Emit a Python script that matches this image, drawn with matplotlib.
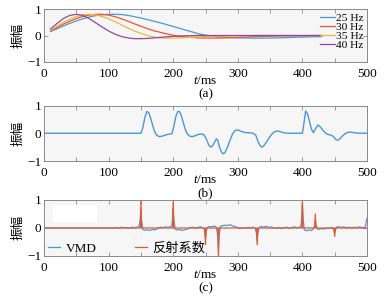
#!/usr/bin/env python3
"""
子波、合成记录与反射系数对比图
"""

import numpy as np
import matplotlib
matplotlib.use("Agg")
import matplotlib.pyplot as plt
from matplotlib.patches import Rectangle
from matplotlib.ticker import MultipleLocator

plt.rcParams['font.family'] = ['Liberation Serif', 'Noto Sans CJK SC']
plt.rcParams['mathtext.fontset'] = 'custom'
plt.rcParams['mathtext.it'] = 'Liberation Serif:italic'
plt.rcParams['mathtext.rm'] = 'Liberation Serif'
plt.rcParams['axes.unicode_minus'] = True

# (a) 不同主频子波
wave_t = [10, 20, 30, 40, 50, 60, 70, 80, 90, 100, 110, 120, 130, 140, 150,
          160, 170, 180, 190, 200, 210, 220, 240, 260, 280, 300, 330, 360,
          400, 430]
wave_25 = [0.15, 0.25, 0.36, 0.46, 0.55, 0.63, 0.70, 0.75, 0.78, 0.80, 0.80,
           0.79, 0.76, 0.71, 0.66, 0.60, 0.54, 0.48, 0.41, 0.34, 0.27, 0.20,
           0.06, -0.03, -0.07, -0.09, -0.10, -0.09, -0.06, -0.04]
wave_30 = [0.18, 0.30, 0.43, 0.54, 0.64, 0.72, 0.77, 0.80, 0.80, 0.77, 0.71,
           0.63, 0.54, 0.44, 0.35, 0.26, 0.18, 0.12, 0.06, 0.01, -0.03, -0.06,
           -0.09, -0.10, -0.09, -0.07, -0.04, -0.02, -0.01, 0.0]
wave_35 = [0.20, 0.35, 0.50, 0.62, 0.72, 0.78, 0.80, 0.78, 0.72, 0.63, 0.52,
           0.40, 0.28, 0.17, 0.08, 0.0, -0.06, -0.09, -0.10, -0.10, -0.09,
           -0.08, -0.05, -0.03, -0.02, -0.01, 0.0, 0.0, 0.0, 0.0]
wave_40 = [0.25, 0.45, 0.64, 0.76, 0.80, 0.76, 0.64, 0.48, 0.32, 0.17, 0.05,
           -0.04, -0.09, -0.12, -0.12, -0.11, -0.09, -0.07, -0.05, -0.03,
           -0.02, -0.01, 0.0, 0.0, 0.0, 0.0, 0.0, 0.0, 0.0, 0.0]
wave_labels = ['25 Hz', '30 Hz', '35 Hz', '40 Hz']

# (b) 合成记录 (t, 振幅)
trace_pts = [
    (0, 0), (150, 0), (153, 0.2), (156, 0.55), (159, 0.78), (162, 0.75),
    (165, 0.55), (168, 0.3), (171, 0.08), (174, -0.06), (178, -0.12),
    (182, -0.11), (186, -0.08), (190, -0.05), (194, -0.03), (198, -0.02),
    (201, 0.25), (204, 0.6), (207, 0.78), (210, 0.78), (213, 0.6),
    (216, 0.35), (219, 0.12), (222, -0.03), (226, -0.11), (230, -0.12),
    (234, -0.09), (238, -0.05), (242, -0.03), (246, -0.03), (249, -0.1),
    (252, -0.25), (255, -0.42), (258, -0.5), (261, -0.45), (264, -0.32),
    (267, -0.2), (269, -0.25), (271, -0.45), (274, -0.65), (277, -0.74),
    (280, -0.7), (284, -0.5), (288, -0.25), (292, -0.02), (296, 0.1),
    (300, 0.12), (304, 0.08), (310, 0.03), (316, 0.02), (320, 0.01),
    (324, 0.0), (328, -0.08), (331, -0.28), (334, -0.43), (337, -0.5),
    (340, -0.46), (344, -0.33), (348, -0.18), (352, -0.05), (356, 0.04),
    (360, 0.08), (364, 0.07), (368, 0.04), (372, 0.01), (380, 0.0),
    (400, 0.0), (402, 0.3), (405, 0.8), (408, 0.7), (411, 0.42),
    (414, 0.15), (417, 0.02), (420, 0.15), (424, 0.3), (428, 0.22),
    (432, 0.1), (436, 0.0), (440, -0.05), (444, -0.06), (448, -0.12),
    (452, -0.23), (455, -0.25), (458, -0.2), (462, -0.1), (466, -0.02),
    (470, 0.03), (474, 0.04), (480, 0.02), (488, 0.0), (500, 0.0),
]

# (c) 反射系数与 VMD 结果
ref_t = [150, 200, 250, 270, 330, 400, 420, 450]
ref_v = [1.0, 1.0, -0.6, -1.0, -0.6, 1.0, 0.5, -0.3]
vmd_pts = [
    (0, 0), (108, 0), (112, 0.02), (116, -0.01), (120, 0.03), (124, 0.0),
    (128, 0.02), (132, -0.01), (136, 0.03), (140, 0.01), (144, 0.03),
    (147, 0.05), (149, 0.3), (150, 0.68), (151, 0.3), (153, -0.05),
    (156, -0.08), (160, -0.06), (164, -0.09), (168, -0.05), (172, -0.07),
    (176, -0.02), (180, 0.03), (184, 0.01), (188, 0.04), (192, 0.02),
    (196, 0.05), (198, 0.1), (199, 0.35), (200, 0.7), (201, 0.3),
    (203, -0.04), (206, -0.07), (210, -0.05), (214, -0.09), (218, -0.06),
    (222, -0.04), (226, 0.01), (230, 0.03), (234, -0.01), (238, 0.02),
    (242, 0.04), (246, 0.01), (248, -0.05), (249, -0.2), (250, -0.35),
    (251, -0.15), (253, 0.02), (256, 0.05), (260, 0.04), (264, 0.07),
    (267, 0.02), (269, -0.3), (270, -0.8), (271, -0.3), (273, 0.06),
    (276, 0.08), (280, 0.1), (284, 0.09), (288, 0.12), (292, 0.07),
    (296, 0.05), (300, 0.01), (304, -0.02), (308, 0.01), (312, -0.01),
    (316, 0.02), (320, 0.0), (324, 0.03), (327, -0.02), (329, -0.2),
    (330, -0.45), (331, -0.2), (333, 0.02), (336, 0.05), (340, 0.03),
    (344, 0.06), (348, 0.02), (352, 0.04), (356, 0.0), (360, -0.01),
    (364, 0.02), (368, -0.02), (372, 0.01), (376, 0.03), (380, -0.01),
    (384, 0.02), (388, 0.04), (392, 0.01), (396, 0.03), (398, 0.1),
    (399, 0.45), (400, 0.85), (401, 0.35), (403, -0.06), (406, -0.1),
    (410, -0.07), (414, -0.09), (417, -0.03), (419, 0.1), (420, 0.3),
    (421, 0.1), (423, -0.03), (426, -0.05), (430, -0.02), (434, -0.04),
    (438, 0.0), (442, -0.02), (446, 0.02), (448, -0.05), (449, -0.12),
    (450, -0.18), (451, -0.08), (453, 0.03), (456, 0.05), (460, 0.02),
    (464, 0.04), (468, 0.01), (472, 0.03), (476, 0.0), (480, 0.03),
    (484, 0.01), (488, 0.04), (492, 0.02), (496, 0.0), (498, 0.1),
    (500, 0.35),
]

C_BLUE = '#4d97d6'
C_RED = '#e8582e'
C_YEL = '#f2b63c'
C_PUR = '#8c4a9c'
SPINE = '#8a8a8a'
BG = '#f6f6f6'
FS = 9.5
H_PX = 296


def style_axes(ax, height_px):
    """MATLAB 风格坐标轴"""
    ax.set_facecolor(BG)
    ax.set_xlim(0, 500)
    ax.set_ylim(-1, 1)
    ax.set_yticks([-1, 0, 1])
    ax.xaxis.set_major_locator(MultipleLocator(100))
    ax.xaxis.set_minor_locator(MultipleLocator(50))
    ax.tick_params(which='both', direction='in', top=True, right=True,
                   length=3, width=0.6, color=SPINE, labelsize=FS)
    ax.tick_params(axis='x', pad=4)
    ax.tick_params(axis='y', pad=2)
    for s in ax.spines.values():
        s.set_color(SPINE)
        s.set_linewidth(0.7)
    ax.set_ylabel('振幅', fontsize=FS - 0.5, family=['Noto Sans CJK SC'],
                  labelpad=2)
    ax.set_xlabel(r'$t$/ms', fontsize=FS)
    # xlabel 紧贴刻度标签, 与 MATLAB 输出一致
    ax.xaxis.label.set_va('center')
    ax.xaxis.set_label_coords(0.5, -18.5 / height_px)


fig = plt.figure(figsize=(3.88, 2.96), dpi=100)
L, W = 44 / 388, 323 / 388
ax_a = fig.add_axes([L, 1 - 62 / H_PX, W, 53 / H_PX])
ax_b = fig.add_axes([L, 1 - 161 / H_PX, W, 55.5 / H_PX])
ax_c = fig.add_axes([L, 1 - 256 / H_PX, W, 56 / H_PX])

# (a)
for vals, c, lab in zip([wave_25, wave_30, wave_35, wave_40],
                        [C_BLUE, C_RED, C_YEL, C_PUR], wave_labels):
    ax_a.plot(wave_t, vals, color=c, lw=0.9, label=lab)
style_axes(ax_a, 53)
ax_a.legend(loc='upper right', bbox_to_anchor=(1.015, 1.07), frameon=False,
            fontsize=8.2, handlelength=1.3, handletextpad=0.15,
            labelspacing=-0.1, borderpad=0.2)

# (b)
tb, vb = zip(*trace_pts)
ax_b.plot(tb, vb, color=C_BLUE, lw=1.0)
style_axes(ax_b, 55.5)

# (c)
tr = np.arange(0, 501)
refl = np.zeros(len(tr))
refl[ref_t] = ref_v
tv, vv = zip(*vmd_pts)
ax_c.add_patch(Rectangle((0.028, 0.607), 0.136, 0.3, transform=ax_c.transAxes,
                         facecolor='white', edgecolor='none', zorder=0.5))
ax_c.plot(tv, vv, color=C_BLUE, lw=0.9, label='VMD')
ax_c.plot(tr, refl, color=C_RED, lw=0.9, label='反射系数')
style_axes(ax_c, 56)
ax_c.legend(loc='lower left', bbox_to_anchor=(-0.015, -0.14), ncol=2,
            frameon=False, fontsize=FS, handlelength=0.9,
            handletextpad=0.4, columnspacing=2.9, borderpad=0.2)

for y, cap in [(94, '(a)'), (193, '(b)'), (288, '(c)')]:
    fig.text(205.5 / 388, 1 - y / H_PX, cap, ha='center', va='center',
             fontsize=FS)

fig.savefig('out.png', dpi=100)
